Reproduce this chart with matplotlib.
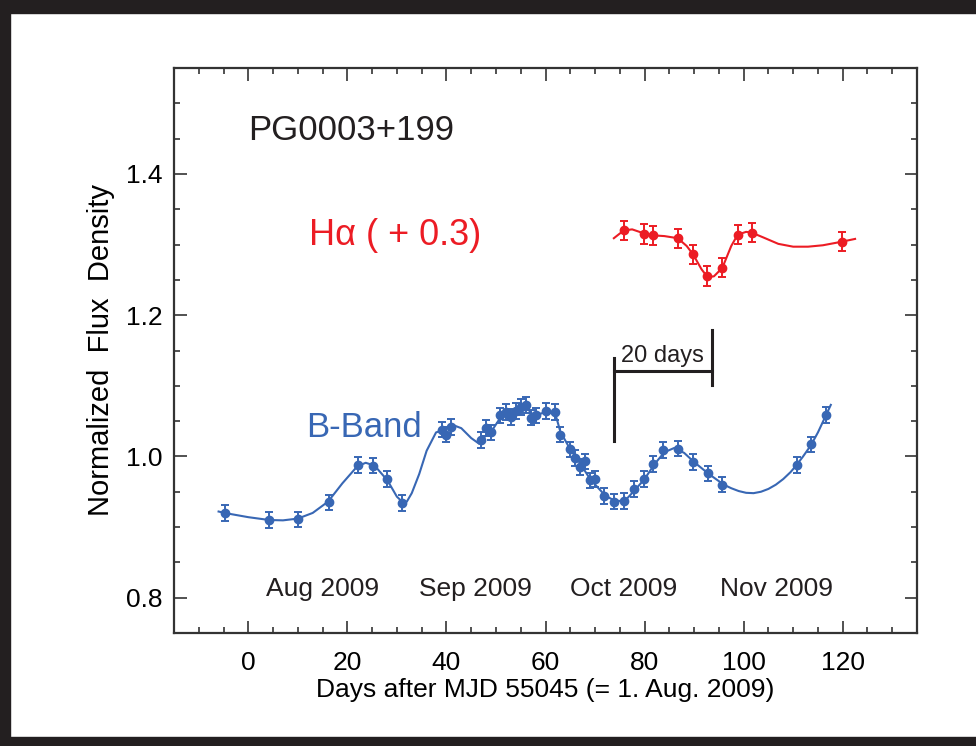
import matplotlib
matplotlib.use("Agg")
import matplotlib.pyplot as plt
from matplotlib.patches import Rectangle
from matplotlib.ticker import MultipleLocator

# B-band photometry (day, normalized flux)
b_day = [-4.8, 4.2, 10.1, 16.2, 22.2, 25.1, 28.1, 31.1, 39.1, 39.9, 41.0,
         47.0, 48.0, 49.0, 50.9, 52.0, 53.0, 54.0, 55.0, 56.0, 57.0, 58.0,
         60.0, 61.9, 63.0, 64.9, 65.9, 66.9, 67.9, 68.9, 69.9, 71.9, 73.8,
         75.8, 77.8, 79.8, 81.8, 83.8, 86.8, 89.8, 92.8, 95.7, 110.7, 113.6,
         116.6]
b_flux = [0.920, 0.910, 0.911, 0.935, 0.988, 0.987, 0.968, 0.934, 1.038, 1.031,
          1.042, 1.023, 1.040, 1.034, 1.058, 1.063, 1.056, 1.064, 1.070, 1.073,
          1.055, 1.058, 1.064, 1.063, 1.031, 1.010, 0.998, 0.985, 0.993, 0.966,
          0.968, 0.944, 0.936, 0.937, 0.954, 0.968, 0.989, 1.009, 1.011, 0.992,
          0.976, 0.960, 0.988, 1.017, 1.059]
b_err = 0.011

# H-alpha (already shifted by +0.3)
ha_day = [75.8, 79.8, 81.8, 86.7, 89.8, 92.7, 95.7, 98.8, 101.6, 119.8]
ha_flux = [1.3205, 1.315, 1.313, 1.309, 1.286, 1.2555, 1.267, 1.314, 1.317, 1.304]
ha_err = 0.0135

# smooth fit curves, nodes
bfit_day = [-6.0, -4.8, 0, 4.2, 7, 10, 13, 16.1, 19, 22, 23.7, 25.5, 28.1, 30,
            31.2, 32, 33, 34.5, 36, 37.9, 39.5, 41.5, 43, 45, 46.6, 48, 49.5,
            51, 53, 55, 56, 57, 58, 60, 62, 63, 65, 67, 69, 72, 74, 76, 78, 80,
            82, 84, 86, 88, 90, 93, 96, 97.5, 99, 100.5, 102, 103.5, 105, 106.5,
            108, 109.5, 110.7, 112, 113.6, 115, 116.6, 117.6]
bfit_flux = [0.922, 0.920, 0.914, 0.910, 0.9095, 0.912, 0.920, 0.936, 0.962,
             0.986, 0.991, 0.987, 0.966, 0.943, 0.935, 0.936, 0.948, 0.975,
             1.008, 1.034, 1.038, 1.044, 1.040, 1.026, 1.018, 1.030, 1.040,
             1.056, 1.058, 1.068, 1.072, 1.062, 1.058, 1.063, 1.060, 1.035,
             1.010, 0.990, 0.968, 0.945, 0.937, 0.937, 0.952, 0.968, 0.989,
             1.006, 1.012, 1.005, 0.992, 0.975, 0.960, 0.955, 0.951, 0.9485,
             0.948, 0.950, 0.954, 0.960, 0.968, 0.978, 0.988, 1.000, 1.016,
             1.034, 1.058, 1.073]
hfit_day = [73.8, 75.8, 77.5, 79.8, 81.8, 84, 86.7, 88.5, 89.8, 91.5, 92.7, 94,
            95.7, 97.5, 98.8, 100.5, 101.6, 104, 107, 110, 113, 116, 119.8, 122.5]
hfit_flux = [1.309, 1.320, 1.3215, 1.316, 1.313, 1.312, 1.309, 1.298, 1.286,
             1.265, 1.254, 1.255, 1.267, 1.298, 1.314, 1.318, 1.317, 1.310,
             1.301, 1.297, 1.297, 1.299, 1.304, 1.308]

months = ["Aug 2009", "Sep 2009", "Oct 2009", "Nov 2009"]
month_day = [14.9, 45.8, 75.8, 106.7]

blue = "#3867b4"
red = "#ec1c24"
ink = "#231f20"
font = ["Liberation Sans", "DejaVu Sans"]

fig = plt.figure(figsize=(9.76, 7.46), dpi=100)
ax = fig.add_axes([174/976, 1-633/746, (917-174)/976, (633-68)/746])

# black frame around the picture
for r in [(0, 0, 10/976, 1), (0, 1-13/746, 1, 13/746), (0, 0, 1, 9/746)]:
    fig.patches.append(Rectangle(r[:2], r[2], r[3], transform=fig.transFigure,
                                 color=ink, zorder=0))

ax.plot(bfit_day, bfit_flux, color=blue, lw=1.5)
ax.plot(hfit_day, hfit_flux, color=red, lw=1.5)
ax.errorbar(b_day, b_flux, yerr=b_err, fmt="o", color=blue, ms=6,
            capsize=3, elinewidth=1.4, capthick=1.4)
ax.errorbar(ha_day, ha_flux, yerr=ha_err, fmt="o", color=red, ms=6,
            capsize=3, elinewidth=1.4, capthick=1.4)

# 20 days scale bar
ax.plot([73.8, 73.8], [1.0216, 1.139], color=ink, lw=2.2)
ax.plot([93.7, 93.7], [1.1017, 1.179], color=ink, lw=2.2)
ax.plot([73.8, 93.7], [1.1214, 1.1214], color=ink, lw=2.2)
ax.text(83.6, 1.127, "20 days", ha="center", va="bottom", fontsize=17,
        family=font, color=ink)

ax.text(0.0, 1.448, "PG0003+199", fontsize=25, family=font, color=ink,
        va="baseline")
ax.text(12.2, 1.2993, "H\u03b1 ( + 0.3)", fontsize=26, family=font, color=red,
        va="baseline")
ax.text(11.7, 1.028, "B-Band", fontsize=25, family=font, color=blue,
        va="baseline")
for m, d in zip(months, month_day):
    ax.text(d, 0.813, m, ha="center", va="center", fontsize=19, family=font,
            color=ink)

ax.set_xlim(-15, 135)
ax.set_ylim(0.75, 1.55)
ax.xaxis.set_minor_locator(MultipleLocator(5))
ax.yaxis.set_minor_locator(MultipleLocator(0.05))
ax.set_xticks([0, 20, 40, 60, 80, 100, 120])
ax.set_yticks([0.8, 1.0, 1.2, 1.4])
ax.set_yticklabels(["0.8", "1.0", "1.2", "1.4"])
ax.tick_params(which="both", direction="in", top=True, right=True,
               color="#333333", width=1.2)
ax.tick_params(which="major", length=9, labelsize=19)
ax.tick_params(which="minor", length=4.5)
ax.tick_params(axis="x", pad=13)
ax.tick_params(axis="y", pad=8)
for lab in ax.get_xticklabels() + ax.get_yticklabels():
    lab.set_family(font)
for s in ax.spines.values():
    s.set_linewidth(1.6)
    s.set_color("#333333")

ax.set_xlabel("Days after MJD 55045 (= 1. Aug. 2009)", fontsize=19,
              family=font, labelpad=2)
ax.set_ylabel("Normalized  Flux  Density", fontsize=21, family=font)
ax.yaxis.set_label_coords(-0.079, 0.5)

fig.savefig("out.png", dpi=100)
